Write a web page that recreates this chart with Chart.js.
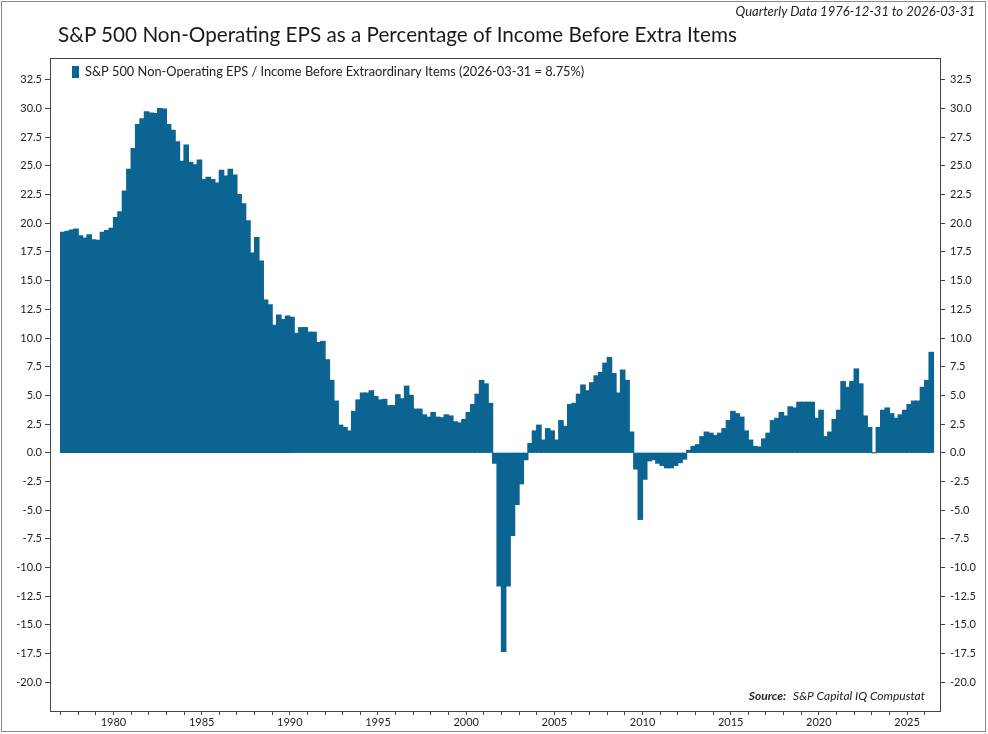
<!DOCTYPE html>
<html>
<head>
<meta charset="utf-8">
<script src="https://cdn.jsdelivr.net/npm/chart.js@4.4.1/dist/chart.umd.min.js"></script>
<style>
  html, body { margin: 0; padding: 0; background: #fff; }
  #wrap { position: relative; width: 988px; height: 734px; font-family: Lato, sans-serif; }
  #frame { position: absolute; left: 1px; top: 1px; width: 983px; height: 729px; border: 1px solid #8a8a8a; }
  #sub { position: absolute; right: 13px; top: 3px; font-style: italic; font-size: 13px; color: #222; }
  #title { position: absolute; left: 58px; top: 22px; font-size: 20.7px; color: #1a1a1a; white-space: nowrap; }
  canvas { position: absolute; left: 0; top: 0; }
</style>
</head>
<body>
<div id="wrap">
  <div id="frame"></div>
  <canvas id="c" width="988" height="734"></canvas>
  <div id="sub">Quarterly Data 1976-12-31 to 2026-03-31</div>
  <div id="title">S&amp;P 500 Non-Operating EPS as a Percentage of Income Before Extra Items</div>
</div>
<script>
// non-operating EPS as % of income before extra items, by quarter-end date, grouped by decade
const eps1970s = [19.2, 19.3, 19.4, 19.5, 18.9, 18.7, 19.0, 18.55, 18.5, 19.2, 19.35, 19.55, 20.5]
const eps1980s = [21.0, 22.8, 24.7, 26.5, 28.6, 29.1, 29.7, 29.6, 29.55, 30.0,
    29.95, 28.6, 28.1, 27.1, 25.4, 26.8, 25.3, 25.1, 25.5, 23.8,
    24.0, 23.8, 23.5, 24.6, 24.1, 24.7, 24.2, 22.5, 21.7, 20.2,
    17.4, 18.75, 16.7, 13.3, 12.9, 11.1, 12.0, 11.6, 11.9, 11.8]
const eps1990s = [10.4, 10.9, 10.9, 10.5, 10.5, 9.6, 9.7, 8.1, 6.3, 4.5,
    2.4, 2.2, 1.9, 3.6, 4.6, 5.2, 5.2, 5.4, 4.9, 4.6,
    4.65, 4.1, 4.1, 5.06, 4.7, 5.8, 5.0, 3.8, 3.8, 3.3,
    3.1, 3.5, 3.1, 3.05, 3.3, 3.2, 2.7, 2.6, 2.9, 3.5]
const eps2000s = [4.2, 5.1, 6.3, 6.0, 4.3, -0.9, -11.6, -17.3, -11.6, -7.2,
    -4.5, -2.7, -0.6, 0.8, 1.9, 2.4, 1.1, 2.1, 1.9, 1.1,
    2.8, 2.3, 4.2, 4.3, 5.1, 5.9, 5.4, 6.1, 6.7, 7.0,
    7.8, 8.3, 6.9, 5.2, 7.2, 6.3, 1.8, -1.4, -5.8, -2.3]
const eps2010s = [-0.7, -0.6, -0.9, -1.1, -1.3, -1.3, -1.1, -0.85, -0.55, 0.2,
    0.55, 0.7, 1.4, 1.8, 1.7, 1.5, 1.7, 2.1, 2.8, 3.6,
    3.4, 3.1, 1.9, 1.1, 0.55, 0.5, 1.2, 1.7, 2.8, 3.0,
    3.5, 3.2, 4.0, 3.9, 4.4, 4.4, 4.4, 4.4, 3.0, 3.7]
const eps2020s = [1.4, 1.8, 2.9, 3.7, 6.2, 5.7, 6.2, 7.3, 6.0, 3.2,
    2.2, 0, 2.2, 3.7, 3.9, 3.4, 3.0, 3.3, 3.7, 4.2,
    4.5, 4.5, 5.7, 6.3, 8.75]

const epsValues = [].concat(eps1970s, eps1980s, eps1990s, eps2000s, eps2010s, eps2020s)

// quarter ends 1976-12-31 .. 2026-03-31
const quarterEnds = []
for (let q = 0; q < epsValues.length; q++) {
    let months = 12 + q * 3
    let y = 1976 + Math.floor((months - 1) / 12)
    let m = ((months - 1) % 12) + 1
    let d = (m == 3 || m == 12) ? 31 : 30
    quarterEnds.push(y + '-' + String(m).padStart(2, '0') + '-' + d)
}

const yTicks = [-20, -17.5, -15, -12.5, -10, -7.5, -5, -2.5, 0, 2.5, 5, 7.5, 10, 12.5, 15, 17.5, 20, 22.5, 25, 27.5, 30, 32.5]
const yearTicks = []
for (let y = 1977; y <= 2026; y++) yearTicks.push(y)
const labelYears = [1980, 1985, 1990, 1995, 2000, 2005, 2010, 2015, 2020, 2025]

const seriesLabel = 'S&P 500 Non-Operating EPS / Income Before Extraordinary Items (2026-03-31 = 8.75%)'
const barColor = '#0b6491'
const axisColor = '#444'
const tickFont = { family: 'Lato', size: 11 }

function yearFrac(s) {
    let [y, m] = s.split('-').map(Number)
    return y + m / 12
}

// outline of the plot, legend inside it, source note
const frameBox = {
    id: 'frameBox',
    afterDraw(chart) {
        const a = chart.chartArea, ctx = chart.ctx
        ctx.save()
        ctx.strokeStyle = axisColor
        ctx.lineWidth = 1
        ctx.strokeRect(Math.round(a.left) + 0.5, Math.round(a.top) + 0.5, Math.round(a.right - a.left), Math.round(a.bottom - a.top))

        const ds = chart.data.datasets[0]
        ctx.fillStyle = ds.backgroundColor
        ctx.fillRect(a.left + 22, a.top + 8, 7, 12)
        ctx.fillStyle = '#222'
        ctx.font = '12.8px Lato'
        ctx.textBaseline = 'middle'
        ctx.fillText(ds.label, a.left + 35, a.top + 14)

        ctx.textAlign = 'right'
        ctx.font = 'italic 12px Lato'
        const src = 'S&P Capital IQ Compustat'
        ctx.fillText(src, a.right - 15, a.bottom - 15)
        const w = ctx.measureText(src).width
        ctx.font = 'italic bold 12px Lato'
        ctx.fillText('Source:', a.right - 15 - w - 7, a.bottom - 15)
        ctx.restore()
    }
}

function yAxis(pos, w) {
    return {
        position: pos,
        min: -22.5,
        max: 34.4,
        grid: { drawOnChartArea: false, tickLength: 5, color: axisColor },
        border: { color: axisColor },
        ticks: {
            color: '#222',
            font: tickFont,
            padding: pos == 'left' ? 3 : 5,
            callback: v => v.toFixed(1)
        },
        afterBuildTicks: ax => { ax.ticks = yTicks.map(v => ({ value: v })) },
        afterFit: ax => { ax.width = w }
    }
}

new Chart(document.getElementById('c'), {
    type: 'bar',
    data: {
        datasets: [{
            label: seriesLabel,
            // each bar covers the quarter that follows its date, as in the source chart
            data: quarterEnds.map((d, i) => ({ x: yearFrac(d) + 0.125, y: epsValues[i] })),
            backgroundColor: barColor,
            borderWidth: 0,
            inflateAmount: 0.6,
            barPercentage: 1,
            categoryPercentage: 1,
            yAxisID: 'y'
        }]
    },
    options: {
        responsive: false,
        animation: false,
        layout: { padding: { top: 58, left: 0, right: 0, bottom: 0 } },
        plugins: { legend: { display: false }, tooltip: { enabled: false } },
        scales: {
            x: {
                type: 'linear',
                min: 1976.4,
                max: 2026.87,
                offset: false,
                grid: { drawOnChartArea: false, offset: false, tickLength: 4, color: axisColor },
                border: { color: axisColor },
                ticks: {
                    color: '#222',
                    font: tickFont,
                    padding: 1,
                    autoSkip: false,
                    maxRotation: 0,
                    callback: v => labelYears.includes(v) ? String(v) : ''
                },
                afterBuildTicks: ax => { ax.ticks = yearTicks.map(v => ({ value: v })) },
                afterFit: ax => { ax.height = 23 }
            },
            y: yAxis('left', 50),
            y2: yAxis('right', 48)
        }
    },
    plugins: [frameBox]
})
</script>
</body>
</html>
